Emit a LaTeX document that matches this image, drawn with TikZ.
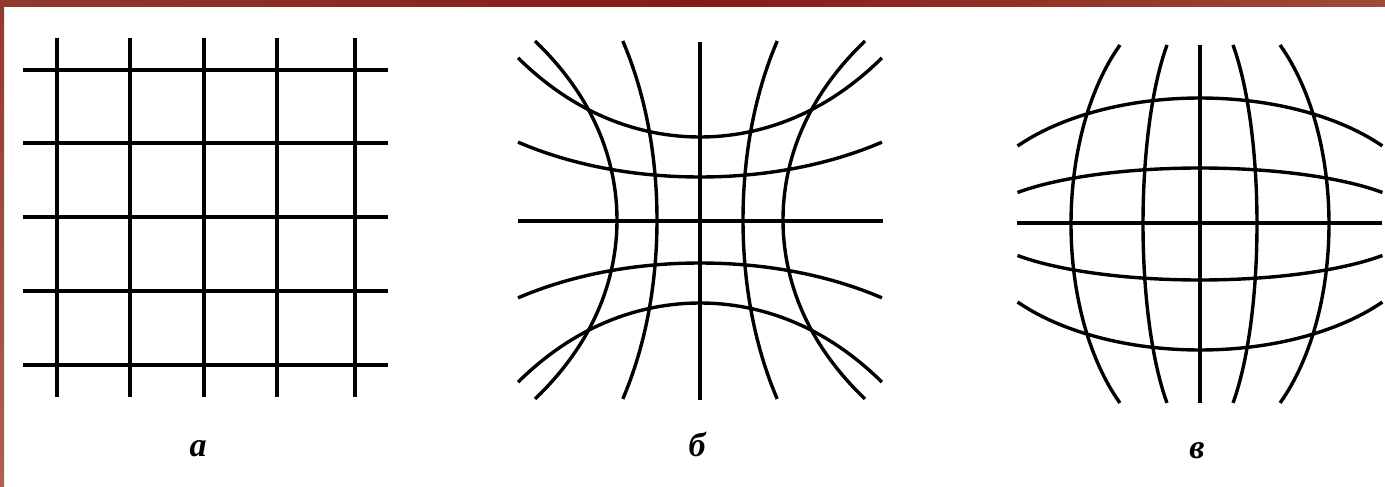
\documentclass[tikz,border=0pt]{standalone}
\usepackage{fontspec}
\setmainfont{Liberation Serif}
\definecolor{frameA}{RGB}{146,58,46}
\definecolor{frameB}{RGB}{134,26,22}
\definecolor{frameC}{RGB}{160,74,58}
\definecolor{frameD}{RGB}{176,96,80}
\tikzset{
  gridline/.style={line width=3.4pt, black},
  panellabel/.style={font=\fontsize{34}{40}\selectfont\bfseries\itshape, anchor=base, inner sep=0pt},
}
\begin{document}
\begin{tikzpicture}[x=1pt, y=-1pt]
\useasboundingbox (0,0) rectangle (1385,487);
\fill[white] (0,0) rectangle (1385,487);
% frame strips
\shade[left color=frameA, right color=frameC, middle color=frameB] (0,0) rectangle (1385,7);
\shade[top color=frameA, bottom color=frameD] (0,0) rectangle (4,487);

% ---------- panel a: regular grid ----------
\foreach \x in {57,130,204,277,355}
  \draw[gridline] (\x,38) -- (\x,397);
\foreach \y in {70,143,217,291,365}
  \draw[gridline] (23,\y) -- (388,\y);
\node[panellabel] (la) at (198,456) {а};

% ---------- panel b: pincushion ----------
\begin{scope}[shift={(700,220)}]
  \draw[gridline] (0,-178) -- (0,180);
  \draw[gridline] (-182,1) -- (183,1);
  % vertical curves
  \foreach \s in {-1,1} {
    \draw[gridline] plot[domain=-1:1, samples=60, variable=\t]
      ({\s*83*0.5*(exp(1.31*\t)+exp(-1.31*\t))}, {179*\t});
    \draw[gridline] plot[domain=-1:1, samples=60, variable=\t]
      ({\s*43*0.5*(exp(1.19*\t)+exp(-1.19*\t))}, {179*\t});
  }
  % horizontal curves
  \foreach \s in {-1,1} {
    \draw[gridline] plot[domain=-1:1, samples=60, variable=\t]
      ({182*\t}, {\s*83*0.5*(exp(1.29*\t)+exp(-1.29*\t))});
    \draw[gridline] plot[domain=-1:1, samples=60, variable=\t]
      ({182*\t}, {\s*43*0.5*(exp(1.2*\t)+exp(-1.2*\t))});
  }
\end{scope}
\node[panellabel] (lb) at (697,456) {б};

% ---------- panel v: barrel ----------
\begin{scope}[shift={(1200,224)}]
  \draw[gridline] (0,-179) -- (0,179);
  \draw[gridline] (-183,-1) -- (182,-1);
  % vertical curves
  \foreach \s in {-1,1} {
    \draw[gridline] plot[domain=-1:1, samples=60, variable=\t]
      ({\s*129*sqrt(1-0.615*\t*\t)}, {179*\t});
    \draw[gridline] plot[domain=-1:1, samples=60, variable=\t]
      ({\s*57*sqrt(1-0.665*\t*\t)}, {179*\t});
  }
  % horizontal curves
  \foreach \s in {-1,1} {
    \draw[gridline] plot[domain=-1:1, samples=60, variable=\t]
      ({182.5*\t}, {\s*126*sqrt(1-0.617*\t*\t)});
    \draw[gridline] plot[domain=-1:1, samples=60, variable=\t]
      ({182.5*\t}, {\s*56*sqrt(1-0.684*\t*\t)});
  }
\end{scope}
\node[panellabel] (lv) at (1197,458) {в};
\end{tikzpicture}
\end{document}
